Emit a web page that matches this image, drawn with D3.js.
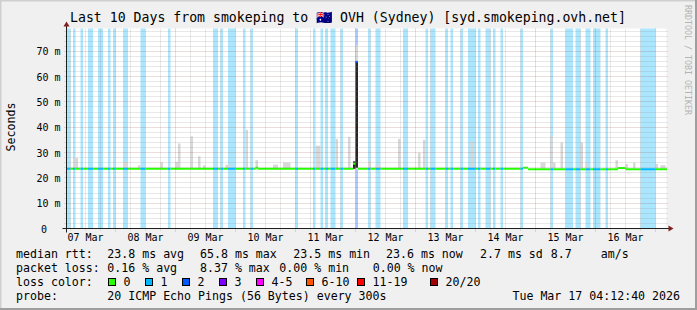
<!DOCTYPE html>
<html>
<head>
<meta charset="utf-8">
<script src="https://cdn.jsdelivr.net/npm/d3@7"></script>
<style>
body { margin: 0; background: #f0f0f0; }
text { font-family: "DejaVu Sans Mono", monospace; fill: #000; }
</style>
</head>
<body>
<script>
const W = 697, H = 310

const parse = d3.timeParse("%Y-%m-%d %H:%M")
const T = s => parse("2026-" + s)

const title = "Last 10 Days from smokeping to 🇦🇺 OVH (Sydney) [syd.smokeping.ovh.net]"
const timeRange = ["03-07 04:36", "03-17 04:36"]
const yMax = 79
const yTicks = [0, 10, 20, 30, 40, 50, 60, 70]
const dayTicks = ["03-07", "03-08", "03-09", "03-10", "03-11", "03-12", "03-13", "03-14", "03-15", "03-16"]

// loss periods [start, end, lost pings out of 20]
const lossBands = [
  ["03-07 04:36", "03-07 06:00", 1], ["03-07 07:00", "03-07 08:00", 1], ["03-07 10:00", "03-07 11:00", 1],
  ["03-07 13:00", "03-07 15:00", 1], ["03-07 17:00", "03-07 19:00", 1], ["03-07 21:00", "03-07 22:00", 1],
  ["03-07 23:00", "03-08 00:00", 1], ["03-08 03:00", "03-08 05:00", 1], ["03-08 10:00", "03-08 12:00", 1],
  ["03-08 21:00", "03-08 22:00", 1], ["03-09 15:00", "03-09 17:00", 1], ["03-09 18:00", "03-09 19:00", 1],
  ["03-09 21:00", "03-10 00:00", 1], ["03-10 03:00", "03-10 04:00", 1], ["03-10 06:00", "03-10 07:00", 1],
  ["03-11 00:00", "03-11 01:00", 1], ["03-11 07:00", "03-11 08:00", 1], ["03-11 10:00", "03-11 11:00", 1],
  ["03-11 12:00", "03-11 13:00", 1], ["03-11 14:00", "03-11 16:00", 1], ["03-11 18:00", "03-11 19:00", 1],
  ["03-12 00:00", "03-12 01:00", 2], ["03-12 05:00", "03-12 06:00", 1], ["03-12 08:00", "03-12 10:00", 1],
  ["03-12 19:00", "03-12 21:00", 1], ["03-13 04:00", "03-13 05:00", 1], ["03-13 06:00", "03-13 08:00", 1],
  ["03-13 12:00", "03-13 13:00", 1], ["03-13 14:00", "03-13 15:00", 1], ["03-13 18:00", "03-13 19:00", 1],
  ["03-13 21:00", "03-14 00:00", 1], ["03-14 01:00", "03-14 02:00", 1], ["03-14 04:00", "03-14 06:00", 1],
  ["03-14 07:00", "03-14 08:00", 1], ["03-14 10:00", "03-14 11:00", 1], ["03-14 18:00", "03-14 19:00", 1],
  ["03-15 06:00", "03-15 07:00", 1], ["03-15 12:00", "03-15 15:00", 1], ["03-15 16:00", "03-15 18:00", 1],
  ["03-15 20:00", "03-15 22:00", 1], ["03-15 23:00", "03-16 02:00", 1], ["03-16 04:00", "03-16 05:00", 1],
  ["03-16 18:00", "03-17 00:00", 1]
]

// median rtt in ms, each value holds until the next entry
const medianSteps = [
  ["03-07 04:36", 23.6], ["03-10 08:00", 24.0], ["03-10 09:00", 23.6],
  ["03-11 23:00", 25.6], ["03-12 00:00", 65.8], ["03-12 01:00", 23.6],
  ["03-14 19:00", 24.0], ["03-14 21:00", 23.4], ["03-16 09:00", 23.9],
  ["03-16 12:00", 23.4]
]

// smoke: highest ping per period, ms
const smokeMax = [
  ["03-07 07:00", "03-07 09:00", 27.8], ["03-08 03:00", "03-08 05:00", 26.3], ["03-08 09:00", "03-08 10:00", 25.0],
  ["03-08 18:00", "03-08 19:00", 26.2], ["03-09 00:00", "03-09 01:00", 26.3], ["03-09 01:00", "03-09 02:00", 33.6],
  ["03-09 06:00", "03-09 07:00", 36.4], ["03-09 09:00", "03-09 10:00", 28.5], ["03-09 11:00", "03-09 12:00", 25.0],
  ["03-09 20:00", "03-09 22:00", 25.2], ["03-10 04:00", "03-10 05:00", 39.0], ["03-10 08:00", "03-10 09:00", 27.0],
  ["03-10 15:00", "03-10 17:00", 25.2], ["03-10 19:00", "03-10 22:00", 26.0], ["03-11 08:00", "03-11 10:00", 32.7],
  ["03-11 16:00", "03-11 17:00", 35.4], ["03-11 21:00", "03-11 22:00", 36.2], ["03-11 23:00", "03-12 00:00", 26.5],
  ["03-12 00:00", "03-12 01:00", 72.5], ["03-12 05:00", "03-12 06:00", 26.7], ["03-12 08:00", "03-12 10:00", 25.0],
  ["03-12 17:00", "03-12 18:00", 35.4], ["03-13 01:00", "03-13 02:00", 29.9], ["03-13 03:00", "03-13 04:00", 35.0],
  ["03-13 22:00", "03-13 23:00", 34.4], ["03-15 02:00", "03-15 04:00", 26.0], ["03-15 06:00", "03-15 07:00", 36.4],
  ["03-15 07:00", "03-15 08:00", 26.0], ["03-15 10:00", "03-15 11:00", 34.0], ["03-15 18:00", "03-15 19:00", 34.0],
  ["03-15 20:00", "03-15 21:00", 26.0], ["03-16 08:00", "03-16 09:00", 27.0], ["03-16 12:00", "03-16 13:00", 25.5],
  ["03-16 15:00", "03-16 16:00", 26.0], ["03-17 00:00", "03-17 01:00", 25.5], ["03-17 02:00", "03-17 04:00", 25.0]
]
const smokeMin = 23.3

// dense smoke (most pings), [start, end, low ms, high ms]
const smokeDense = [
  ["03-11 23:00", "03-12 00:00", 23.6, 26.5],
  ["03-12 00:00", "03-12 01:00", 24.0, 66.0]
]

const lossColors = [
  ["0", "#26ff00"], ["1", "#00b8ff"], ["2", "#0059ff"], ["3", "#7e00ff"],
  ["4-5", "#ff00ff"], ["6-10", "#ff5500"], ["11-19", "#ff0000"], ["20/20", "#a10000"]
]
const lossBack = {1: "#aae7ff", 2: "#aac8ff"}

const rttStats = ["23.8 ms avg", "65.8 ms max", "23.5 ms min", "23.6 ms now", "2.7 ms sd", "8.7", "am/s"]
const lossStats = ["0.16 % avg", "8.37 % max", "0.00 % min", "0.00 % now"]
const probeText = "20 ICMP Echo Pings (56 Bytes) every 300s"
const stamp = "Tue Mar 17 04:12:40 2026"

const x0 = 66.5, x1 = 666.5, yBot = 228.5, yTop = 28.5

const svg = d3.select("body").append("svg")
  .attr("width", W).attr("height", H)

svg.append("rect").attr("width", W).attr("height", H).attr("fill", "#f0f0f0")
svg.append("path").attr("d", `M0.5,${H} V0.5 H${W}`).attr("stroke", "#cfcfcf").attr("stroke-width", 2).attr("fill", "none")
svg.append("path").attr("d", `M${W - 1},0 V${H - 1} H0`).attr("stroke", "#9e9e9e").attr("stroke-width", 2).attr("fill", "none")

const x = d3.scaleTime().domain(timeRange.map(T)).range([x0 + 0.5, x1 + 0.5])
const y = d3.scaleLinear().domain([0, yMax]).range([yBot, yTop])
const px = v => Math.floor(v) + 0.5

// canvas
svg.append("rect").attr("x", x0).attr("y", yTop).attr("width", x1 - x0).attr("height", yBot - yTop).attr("fill", "#fff")

// loss background
svg.append("g").selectAll("rect").data(lossBands).join("rect")
  .attr("x", d => x(T(d[0])))
  .attr("width", d => x(T(d[1])) - x(T(d[0])))
  .attr("y", yTop).attr("height", yBot - yTop)
  .attr("fill", d => lossBack[d[2]])

// smoke
svg.append("g").selectAll("rect").data(smokeMax).join("rect")
  .attr("x", d => x(T(d[0])))
  .attr("width", d => x(T(d[1])) - x(T(d[0])))
  .attr("y", d => y(d[2]))
  .attr("height", d => y(smokeMin) - y(d[2]))
  .attr("fill", "#d8d8d8")

svg.append("g").selectAll("rect").data(smokeDense).join("rect")
  .attr("x", d => x(T(d[0])))
  .attr("width", d => x(T(d[1])) - x(T(d[0])))
  .attr("y", d => y(d[3]))
  .attr("height", d => y(d[2]) - y(d[3]))
  .attr("fill", "#262626")

// median: split at step changes and loss band edges
const cuts = Array.from(new Set([
  ...medianSteps.map(d => +T(d[0])),
  ...lossBands.flatMap(d => [+T(d[0]), +T(d[1])]),
  +T(timeRange[1])
])).sort((a, b) => a - b)
const segs = []
for (let i = 0; i < cuts.length - 1; i++) {
  const a = cuts[i], b = cuts[i + 1]
  const step = medianSteps.filter(d => +T(d[0]) <= a).pop()
  const band = lossBands.find(d => +T(d[0]) <= a && +T(d[1]) >= b)
  segs.push({a, b, v: step[1], loss: band ? band[2] : 0})
}
svg.append("g").selectAll("line").data(segs).join("line")
  .attr("x1", d => x(d.a)).attr("x2", d => x(d.b))
  .attr("y1", d => y(d.v)).attr("y2", d => y(d.v))
  .attr("stroke", d => lossColors[d.loss][1])
  .attr("stroke-width", 2)

// grid
const grid = svg.append("g").attr("fill", "none").attr("stroke-width", 1).attr("stroke-dasharray", "1,1")
const minorY = d3.range(2, yMax, 2).filter(v => v % 10 !== 0)
grid.selectAll(".hy").data(minorY).join("path")
  .attr("d", v => `M${x0 - 2},${px(y(v))} H${x1 + 2}`)
  .attr("stroke", "rgba(140,140,140,0.4)")
grid.selectAll(".my").data(yTicks.slice(1)).join("path")
  .attr("d", v => `M${x0 - 2},${px(y(v))} H${x1 + 2}`)
  .attr("stroke", "rgba(130,30,30,0.3)")
const days = dayTicks.map(d => T(d + " 00:00")).concat([T("03-17 00:00")]).filter(d => x(d) > x0)
const sixHours = d3.timeHour.every(6).range(...timeRange.map(T)).filter(d => d.getHours() !== 0)
grid.selectAll(".hx").data(sixHours).join("path")
  .attr("d", d => `M${px(x(d))},${yBot + 2} V${yTop}`)
  .attr("stroke", "rgba(140,140,140,0.4)")
grid.selectAll(".mx").data(days).join("path")
  .attr("d", d => `M${px(x(d))},${yBot + 3} V${yTop}`)
  .attr("stroke", "rgba(130,30,30,0.3)")

// axes
svg.append("path").attr("d", `M${x0 - 4},${yBot} H${x1 + 4}`).attr("stroke", "#1f1f1f")
svg.append("path").attr("d", `M${x0},${yBot + 4} V${yTop - 4}`).attr("stroke", "#1f1f1f")
svg.append("path").attr("fill", "#7f1f1f")
  .attr("d", `M${x1 + 2},${yBot - 3} L${x1 + 2},${yBot + 3} L${x1 + 7},${yBot} Z`)
svg.append("path").attr("fill", "#7f1f1f")
  .attr("d", `M${x0 - 3},${yTop - 2} L${x0 + 3},${yTop - 2} L${x0},${yTop - 7} Z`)

// axis labels
svg.append("g").selectAll("text").data(yTicks).join("text")
  .attr("x", v => v === 0 ? 47 : 60.5)
  .attr("y", v => y(v) + 4)
  .attr("text-anchor", "end")
  .attr("font-size", "10px")
  .text(v => v === 0 ? "0" : v + " m")

const fmtDay = d3.timeFormat("%d %b")
svg.append("g").selectAll("text").data(dayTicks).join("text")
  .attr("x", d => x(T(d + " 12:00")))
  .attr("y", 241)
  .attr("text-anchor", "middle")
  .attr("font-size", "10px")
  .text(d => fmtDay(T(d + " 00:00")))

svg.append("text").attr("transform", "translate(14.5,127) rotate(-90)")
  .attr("text-anchor", "middle").attr("font-size", "11.6px").text("Seconds")

svg.append("text").attr("x", 348).attr("y", 22).attr("text-anchor", "middle")
  .attr("font-size", "13.2px").text(title)

svg.append("text").attr("transform", "translate(685,5) rotate(90)")
  .attr("font-size", "8.3px").style("fill", "#b4b4b4").text("RRDTOOL / TOBI OETIKER")

// legend
const leg = svg.append("g").attr("font-size", "11.6px")
const row = (yy, label) => leg.append("text").attr("x", 16).attr("y", yy).text(label)
row(258, "median rtt:")
row(272, "packet loss:")
row(286, "loss color:")
row(300, "probe:")

const rttX = [107.3, 200, 293.3, 386, 480, 550.7, 600.7]
leg.selectAll(".rtt").data(rttStats).join("text")
  .attr("x", (d, i) => rttX[i]).attr("y", 258).text(d => d)
const lossX = [107.3, 200, 279.3, 372.7]
leg.selectAll(".ls").data(lossStats).join("text")
  .attr("x", (d, i) => lossX[i]).attr("y", 272).text(d => d)

const boxX = [108.5, 145.5, 182.5, 219.5, 256.5, 306.5, 357.5, 430.5]
const lc = leg.selectAll(".lc").data(lossColors).join("g")
lc.append("rect")
  .attr("x", (d, i) => boxX[i]).attr("y", 278.5)
  .attr("width", 7).attr("height", 7)
  .attr("fill", d => d[1]).attr("stroke", "#000")
lc.append("text")
  .attr("x", (d, i) => boxX[i] + 15).attr("y", 286).text(d => d[0])

leg.append("text").attr("x", 107.3).attr("y", 300).text(probeText)
leg.append("text").attr("x", 680).attr("y", 300).attr("text-anchor", "end").text(stamp)
</script>
</body>
</html>
